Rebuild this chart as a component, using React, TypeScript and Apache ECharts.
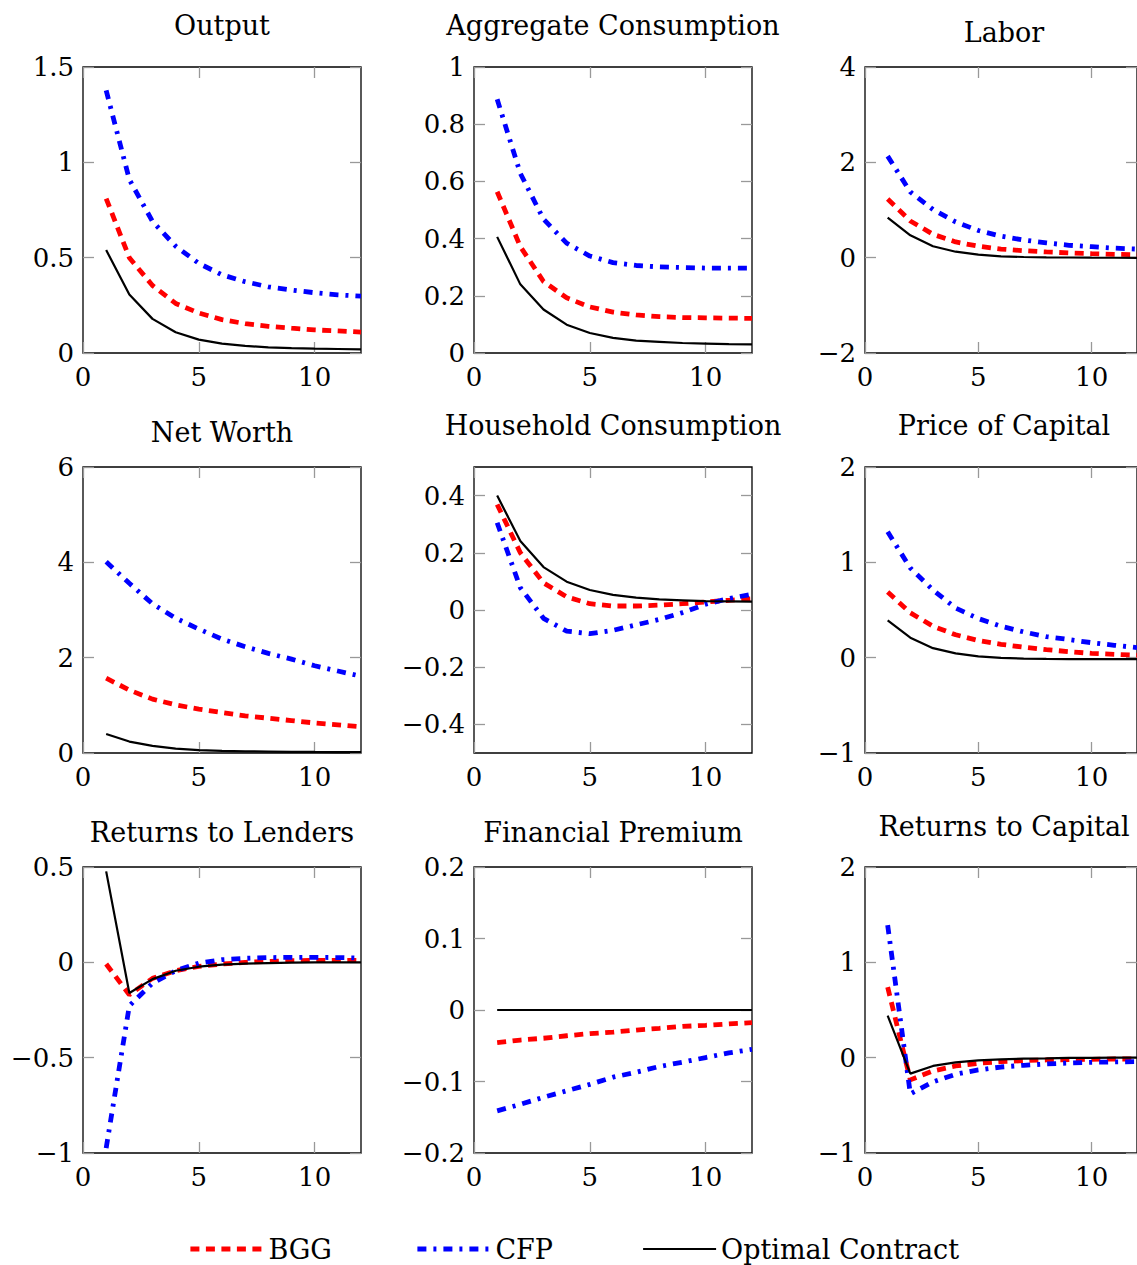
import React, { useEffect, useRef } from "react";
import * as echarts from "echarts";

// ---------- data ----------
const periods = [1, 2, 3, 4, 5, 6, 7, 8, 9, 10, 11, 12];
const seriesNames = ["BGG", "CFP", "Optimal Contract"];
const xTickValues = [0, 5, 10];

const outputBGG = [0.81, 0.5, 0.354, 0.26, 0.21, 0.175, 0.154, 0.14, 0.13, 0.121, 0.116, 0.11];
const outputCFP = [1.377, 0.91, 0.69, 0.56, 0.47, 0.41, 0.374, 0.347, 0.33, 0.316, 0.305, 0.298];
const outputOpt = [0.54, 0.307, 0.179, 0.109, 0.07, 0.049, 0.037, 0.03, 0.026, 0.023, 0.021, 0.019];
const outputTicks = [0, 0.5, 1, 1.5];

const aggConsBGG = [0.564, 0.372, 0.25, 0.193, 0.161, 0.143, 0.133, 0.127, 0.124, 0.123, 0.122, 0.121];
const aggConsCFP = [0.887, 0.628, 0.468, 0.384, 0.339, 0.316, 0.306, 0.301, 0.299, 0.297, 0.297, 0.297];
const aggConsOpt = [0.406, 0.24, 0.152, 0.099, 0.07, 0.053, 0.043, 0.039, 0.035, 0.033, 0.031, 0.03];
const aggConsTicks = [0, 0.2, 0.4, 0.6, 0.8, 1];

const laborBGG = [1.23, 0.77, 0.49, 0.33, 0.24, 0.18, 0.146, 0.12, 0.1, 0.084, 0.07, 0.06];
const laborCFP = [2.13, 1.38, 1.01, 0.75, 0.57, 0.45, 0.37, 0.31, 0.26, 0.23, 0.2, 0.18];
const laborOpt = [0.84, 0.47, 0.24, 0.125, 0.063, 0.028, 0.014, 0.007, 0.003, 0, -0.002, -0.003];
const laborTicks = [-2, 0, 2, 4];

const netWorthBGG = [1.57, 1.32, 1.13, 1.01, 0.92, 0.85, 0.78, 0.73, 0.68, 0.63, 0.59, 0.55];
const netWorthCFP = [4.01, 3.56, 3.13, 2.83, 2.6, 2.39, 2.23, 2.09, 1.97, 1.83, 1.72, 1.61];
const netWorthOpt = [0.4, 0.24, 0.15, 0.09, 0.06, 0.045, 0.035, 0.03, 0.025, 0.022, 0.02, 0.02];
const netWorthTicks = [0, 2, 4, 6];

const hhConsBGG = [0.369, 0.2, 0.095, 0.046, 0.022, 0.014, 0.014, 0.017, 0.022, 0.028, 0.034, 0.039];
const hhConsCFP = [0.305, 0.078, -0.029, -0.074, -0.083, -0.071, -0.052, -0.033, -0.009, 0.02, 0.04, 0.055];
const hhConsOpt = [0.4, 0.241, 0.15, 0.099, 0.07, 0.053, 0.043, 0.037, 0.034, 0.031, 0.03, 0.029];
const hhConsTicks = [-0.4, -0.2, 0, 0.2, 0.4];

const priceCapBGG = [0.69, 0.47, 0.33, 0.24, 0.18, 0.14, 0.11, 0.084, 0.063, 0.045, 0.035, 0.025];
const priceCapCFP = [1.32, 0.94, 0.71, 0.52, 0.41, 0.33, 0.27, 0.22, 0.19, 0.157, 0.13, 0.105];
const priceCapOpt = [0.39, 0.21, 0.1, 0.045, 0.014, -0.003, -0.01, -0.013, -0.015, -0.015, -0.015, -0.015];
const priceCapTicks = [-1, 0, 1, 2];

const lendersBGG = [-0.009, -0.17, -0.084, -0.044, -0.021, -0.009, 0, 0.005, 0.009, 0.01, 0.01, 0.01];
const lendersCFP = [-0.974, -0.228, -0.109, -0.044, -0.004, 0.014, 0.021, 0.025, 0.026, 0.026, 0.025, 0.023];
const lendersOpt = [0.477, -0.161, -0.088, -0.044, -0.023, -0.012, -0.007, -0.004, -0.002, 0, 0, 0];
const lendersTicks = [-1, -0.5, 0, 0.5];

const premiumBGG = [-0.0456, -0.042, -0.0395, -0.036, -0.033, -0.031, -0.028, -0.0256, -0.023, -0.0214, -0.0195, -0.0177];
const premiumCFP = [-0.141, -0.132, -0.122, -0.113, -0.104, -0.094, -0.087, -0.079, -0.073, -0.0665, -0.06, -0.055];
const premiumOpt = [0, 0, 0, 0, 0, 0, 0, 0, 0, 0, 0, 0];
const premiumTicks = [-0.2, -0.1, 0, 0.1, 0.2];

const capitalBGG = [0.74, -0.233, -0.139, -0.087, -0.059, -0.042, -0.031, -0.024, -0.021, -0.017, -0.014, -0.014];
const capitalCFP = [1.39, -0.38, -0.254, -0.174, -0.129, -0.098, -0.08, -0.066, -0.056, -0.049, -0.045, -0.042];
const capitalOpt = [0.44, -0.167, -0.087, -0.049, -0.028, -0.017, -0.01, -0.007, -0.003, -0.003, 0, 0];
const capitalTicks = [-1, 0, 1, 2];

// ---------- panel setup ----------
const panels = [
  { title: "Output", series: [outputBGG, outputCFP, outputOpt], min: 0, max: 1.5, interval: 0.5, ticks: outputTicks, titleY: 25 },
  { title: "Aggregate Consumption", series: [aggConsBGG, aggConsCFP, aggConsOpt], min: 0, max: 1, interval: 0.2, ticks: aggConsTicks, titleY: 25 },
  { title: "Labor", series: [laborBGG, laborCFP, laborOpt], min: -2, max: 4, interval: 2, ticks: laborTicks, titleY: 32 },
  { title: "Net Worth", series: [netWorthBGG, netWorthCFP, netWorthOpt], min: 0, max: 6, interval: 2, ticks: netWorthTicks, titleY: 432 },
  { title: "Household Consumption", series: [hhConsBGG, hhConsCFP, hhConsOpt], min: -0.5, max: 0.5, interval: 0.1, ticks: hhConsTicks, titleY: 425 },
  { title: "Price of Capital", series: [priceCapBGG, priceCapCFP, priceCapOpt], min: -1, max: 2, interval: 1, ticks: priceCapTicks, titleY: 425 },
  { title: "Returns to Lenders", series: [lendersBGG, lendersCFP, lendersOpt], min: -1, max: 0.5, interval: 0.5, ticks: lendersTicks, titleY: 832 },
  { title: "Financial Premium", series: [premiumBGG, premiumCFP, premiumOpt], min: -0.2, max: 0.2, interval: 0.1, ticks: premiumTicks, titleY: 832 },
  { title: "Returns to Capital", series: [capitalBGG, capitalCFP, capitalOpt], min: -1, max: 2, interval: 1, ticks: capitalTicks, titleY: 826 },
];

const FONT = '"DejaVu Serif", serif';
const COL_LEFT = [83, 474, 865];
const ROW_TOP = [67, 467, 867];
const PW = 278;
const PH = 286;

const lineStyles = [
  { color: "#ff0000", width: 4.8, type: [9, 6.5] },
  { color: "#0000ff", width: 4.8, type: [9, 7, 3, 7] },
  { color: "#000000", width: 2.2, type: "solid" },
];

const fmt = (v: number) => String(Math.round(v * 1000) / 1000).replace("-", "\u2212");

function buildOption() {
  const grid: any[] = [];
  const xAxis: any[] = [];
  const yAxis: any[] = [];
  const series: any[] = [];
  const graphic: any[] = [];

  const tickStyle = { inside: true, length: 11, lineStyle: { color: "#999999", width: 1.3 } };
  const noLine = { show: false, onZero: false };

  panels.forEach((p, i) => {
    const col = i % 3;
    const row = Math.floor(i / 3);
    const left = COL_LEFT[col];
    const top = ROW_TOP[row];
    grid.push({
      left,
      top,
      width: PW,
      height: PH,
      show: true,
      borderColor: "#000",
      borderWidth: 1.3,
      backgroundColor: "transparent",
    });
    xAxis.push({
      gridIndex: i,
      type: "value",
      min: 0,
      max: 12,
      interval: 5,
      position: "bottom",
      axisLine: noLine,
      axisTick: { ...tickStyle, customValues: xTickValues },
      axisLabel: {
        customValues: xTickValues,
        fontFamily: FONT,
        fontSize: 26,
        color: "#000",
        margin: 11,
        formatter: (v: number) => fmt(v),
      },
      splitLine: { show: false },
    });
    xAxis.push({
      gridIndex: i,
      type: "value",
      min: 0,
      max: 12,
      interval: 5,
      position: "top",
      axisLine: noLine,
      axisTick: { ...tickStyle, customValues: xTickValues },
      axisLabel: { show: false },
      splitLine: { show: false },
    });
    yAxis.push({
      gridIndex: i,
      type: "value",
      min: p.min,
      max: p.max,
      interval: p.interval,
      position: "left",
      axisLine: noLine,
      axisTick: { ...tickStyle, customValues: p.ticks },
      axisLabel: {
        customValues: p.ticks,
        fontFamily: FONT,
        fontSize: 26,
        color: "#000",
        margin: 9,
        formatter: (v: number) => fmt(v),
      },
      splitLine: { show: false },
    });
    yAxis.push({
      gridIndex: i,
      type: "value",
      min: p.min,
      max: p.max,
      interval: p.interval,
      position: "right",
      axisLine: noLine,
      axisTick: { ...tickStyle, customValues: p.ticks },
      axisLabel: { show: false },
      splitLine: { show: false },
    });

    p.series.forEach((vals, k) => {
      series.push({
        type: "line",
        name: seriesNames[k],
        xAxisIndex: 2 * i,
        yAxisIndex: 2 * i,
        data: periods.map((t, j) => [t, vals[j]]),
        symbol: "none",
        showSymbol: false,
        clip: true,
        silent: true,
        lineStyle: lineStyles[k],
        itemStyle: { color: lineStyles[k].color },
        z: 2 + k,
      });
    });

    graphic.push({
      type: "text",
      x: left + PW / 2,
      y: p.titleY,
      style: {
        text: p.title,
        font: `27px ${FONT}`,
        fill: "#000",
        align: "center",
        verticalAlign: "middle",
      },
    });
  });

  const legendLefts = [188, 415, 642];
  const legend = seriesNames.map((name, k) => ({
    data: [name],
    left: legendLefts[k],
    top: 1234,
    padding: 0,
    itemWidth: 73,
    itemHeight: 20,
    itemGap: 0,
    selectedMode: false,
    itemStyle: { opacity: 0 },
    lineStyle: { width: lineStyles[k].width },
    textStyle: { fontFamily: FONT, fontSize: 27, lineHeight: 30, color: "#000" },
  }));

  return {
    animation: false,
    backgroundColor: "#ffffff",
    grid,
    xAxis,
    yAxis,
    series,
    legend,
    graphic,
  };
}

export default function App() {
  const ref = useRef<HTMLDivElement>(null);
  useEffect(() => {
    if (!ref.current) return;
    const chart = echarts.init(ref.current, null, { renderer: "svg" });
    chart.setOption(buildOption() as any);
    return () => chart.dispose();
  }, []);
  return (
    <div
      ref={ref}
      style={{ position: "absolute", left: 0, top: 0, width: 1137, height: 1265, background: "#fff" }}
    />
  );
}
